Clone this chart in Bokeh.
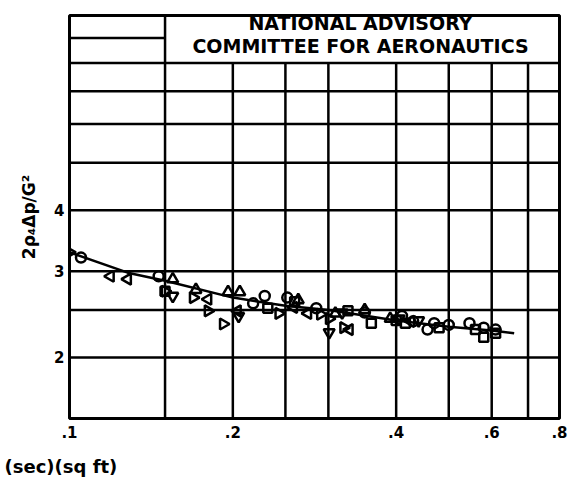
import math
from bokeh.plotting import figure
from bokeh.models import FixedTicker, Label, Title
from bokeh.embed import file_html
from bokeh.resources import INLINE

# ---- data ----
x_ticks = [0.1, 0.2, 0.4, 0.6, 0.8]
x_tick_labels = [".1", ".2", ".4", ".6", ".8"]
y_ticks = [2, 3, 4]
y_tick_labels = ["2", "3", "4"]

grid_x = [0.15, 0.2, 0.25, 0.3, 0.4, 0.5, 0.6, 0.7]
grid_y = [2, 2.5, 3, 4, 5, 6, 7, 8]

circle_x = [0.105, 0.146, 0.218, 0.229, 0.252, 0.285, 0.35, 0.41, 0.43, 0.457, 0.47, 0.5, 0.546, 0.58, 0.61]
circle_y = [3.2, 2.93, 2.58, 2.67, 2.65, 2.52, 2.47, 2.43, 2.37, 2.28, 2.35, 2.33, 2.35, 2.3, 2.28]

square_x = [0.15, 0.232, 0.26, 0.326, 0.36, 0.4, 0.416, 0.48, 0.56, 0.58, 0.61]
square_y = [2.73, 2.52, 2.6, 2.49, 2.35, 2.38, 2.35, 2.3, 2.28, 2.2, 2.24]

up_x = [0.155, 0.171, 0.196, 0.206, 0.264, 0.309, 0.35, 0.39]
up_y = [2.89, 2.75, 2.72, 2.72, 2.62, 2.46, 2.5, 2.4]

right_x = [0.1, 0.15, 0.169, 0.18, 0.192, 0.243, 0.29, 0.301, 0.32]
right_y = [3.28, 2.73, 2.65, 2.49, 2.34, 2.46, 2.45, 2.4, 2.3]

left_x = [0.119, 0.128, 0.18, 0.204, 0.259, 0.275, 0.328, 0.426]
left_y = [2.93, 2.89, 2.63, 2.49, 2.53, 2.46, 2.28, 2.37]

down_x = [0.155, 0.205, 0.301, 0.318, 0.405, 0.44]
down_y = [2.67, 2.43, 2.25, 2.47, 2.4, 2.38]

fair_x = [0.1, 0.128, 0.15, 0.2, 0.25, 0.3, 0.4, 0.5, 0.6, 0.66]
fair_y = [3.28, 2.98, 2.87, 2.65, 2.55, 2.5, 2.38, 2.31, 2.27, 2.24]

x_min, x_max = 0.1, 0.8
y_min, y_max = 1.5, 10
box_x0, box_y0 = 0.15, 8
y_extra = 9

FONT = "DejaVu Sans"

p = figure(frame_width=490, frame_height=403, x_axis_type="log", y_axis_type="log",
           x_range=(x_min, x_max), y_range=(y_min, y_max),
           output_backend="svg", toolbar_location=None,
           min_border_left=69, min_border_right=10,
           min_border_top=15, min_border_bottom=70)
p.xgrid.visible = False
p.ygrid.visible = False
p.outline_line_color = "black"
p.outline_line_width = 3
p.background_fill_color = "white"
p.border_fill_color = "white"

for ax, ticks, labels in ((p.xaxis[0], x_ticks, x_tick_labels), (p.yaxis[0], y_ticks, y_tick_labels)):
    ax.ticker = FixedTicker(ticks=ticks, minor_ticks=[])
    ax.major_label_overrides = {t: l for t, l in zip(ticks, labels)}
    ax.axis_line_color = None
    ax.major_tick_line_color = None
    ax.minor_tick_line_color = None
    ax.major_tick_out = 0
    ax.major_tick_in = 0
    ax.major_label_text_font = FONT
    ax.major_label_text_font_style = "bold"
    ax.major_label_text_font_size = "15px"
    ax.major_label_text_color = "black"
p.xaxis.major_label_standoff = 7
p.yaxis.major_label_standoff = 5

p.yaxis.axis_label = "2ρ₄Δp/G²"
p.yaxis.axis_label_text_font = FONT
p.yaxis.axis_label_text_font_style = "bold"
p.yaxis.axis_label_text_font_size = "17px"
p.yaxis.axis_label_text_color = "black"
p.yaxis.axis_label_standoff = 12

xt = Title(text="(sec)(sq ft)", align="left", offset=-65, text_font=FONT,
           text_font_style="bold", text_font_size="18px", text_color="black",
           standoff=26)
p.add_layout(xt, "below")

LW = 2.5
# vertical grid lines (up to bottom of title box)
p.segment(x0=grid_x, y0=[y_min] * len(grid_x), x1=grid_x, y1=[box_y0] * len(grid_x),
          line_color="black", line_width=LW)
# horizontal grid lines across full width
p.segment(x0=[x_min] * len(grid_y), y0=grid_y, x1=[x_max] * len(grid_y), y1=grid_y,
          line_color="black", line_width=LW)
# extra line left of title box, and box left edge
p.segment(x0=[x_min], y0=[y_extra], x1=[box_x0], y1=[y_extra], line_color="black", line_width=LW)
p.segment(x0=[box_x0], y0=[box_y0], x1=[box_x0], y1=[y_max], line_color="black", line_width=LW)

# faired curve
p.line(fair_x, fair_y, line_color="black", line_width=2.5)

MS = 10
MW = 2.5
p.scatter(circle_x, circle_y, marker="circle", size=MS, fill_color=None, line_color="black", line_width=MW)
p.scatter(square_x, square_y, marker="square", size=MS - 1, fill_color=None, line_color="black", line_width=MW)
p.scatter(up_x, up_y, marker="triangle", size=MS + 1, fill_color=None, line_color="black", line_width=MW)
p.scatter(down_x, down_y, marker="inverted_triangle", size=MS + 1, fill_color=None, line_color="black", line_width=MW)
p.scatter(right_x, right_y, marker="triangle", angle=-math.pi / 2, size=MS + 1, fill_color=None,
          line_color="black", line_width=MW)
p.scatter(left_x, left_y, marker="triangle", angle=math.pi / 2, size=MS + 1, fill_color=None,
          line_color="black", line_width=MW)

# NACA title box text
for txt, yy in (("NATIONAL ADVISORY", 396), ("COMMITTEE FOR AERONAUTICS", 373)):
    p.add_layout(Label(x=291, y=yy, x_units="screen", y_units="screen", text=txt,
                       text_font=FONT, text_font_style="bold", text_font_size="19px",
                       text_align="center", text_baseline="middle", text_color="black"))

open("out.html", "w").write(file_html(p, INLINE))
